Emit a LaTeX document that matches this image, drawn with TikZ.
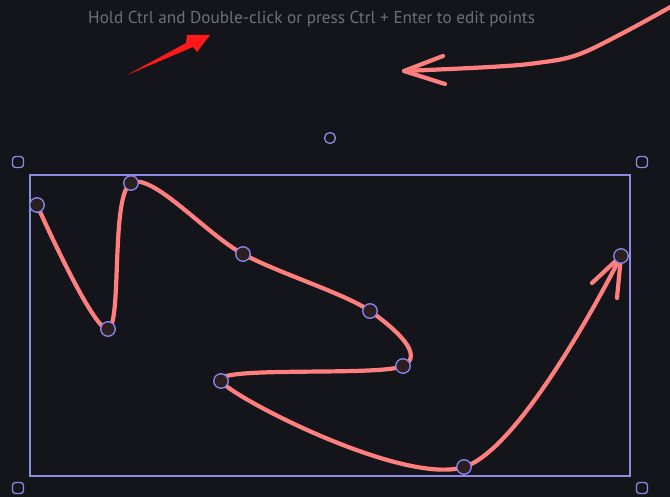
\documentclass[tikz,border=0pt]{standalone}
\usepackage{fontspec}
\setmainfont{PT Sans}
\begin{document}
\begin{tikzpicture}[x=1pt,y=-1pt,
  stroke/.style={draw=curvepink,line width=4.2pt,line cap=round,line join=round},
  sel/.style={draw=sellav,line width=1.5pt},
  handle/.style={draw=sellav,line width=1.3pt,rounded corners=3pt,minimum size=11pt,inner sep=0pt,rectangle},
  pt/.style={circle,draw=ptlav,fill=ptfill,line width=1.3pt,minimum size=14.5pt,inner sep=0pt},
  hint/.style={text=hintgray,font=\fontsize{17.2}{19}\selectfont,inner sep=0pt,anchor=base west}]
\definecolor{bg}{HTML}{13151A}
\definecolor{curvepink}{HTML}{FF7E7E}
\definecolor{sellav}{HTML}{8F8BE0}
\definecolor{ptlav}{HTML}{8A87F0}
\definecolor{ptfill}{HTML}{2B1F20}
\definecolor{hintgray}{HTML}{6E7076}
\definecolor{hotred}{HTML}{FF1A1A}
\fill[bg] (0,0) rectangle (670,497);
\useasboundingbox (0,0) rectangle (670,497);
% hint text
\node[hint] (hinttext) at (88,24) {Hold Ctrl and Double-click or press Ctrl + Enter to edit points};
% red arrow
\fill[hotred] (127,75) -- (186,43) -- (187,35) -- (210,35) -- (197,52) -- (193,47) -- cycle;
% top-right pink arrow
\coordinate (a0) at (674,5);
\coordinate (a1) at (623,33);
\coordinate (a2) at (577,55);
\coordinate (a3) at (537,63);
\coordinate (a4) at (490,67);
\coordinate (a5) at (404,71);
\coordinate (ah1) at (443,56);
\coordinate (ah2) at (445,84);
\draw[stroke] plot[smooth,tension=0.6] coordinates {(a0) (a1) (a2) (a3) (a4) (a5)};
\draw[stroke] (ah1) -- (a5) -- (ah2);
% selection frame
\draw[sel] (30,175) rectangle (630,476);
\node[handle] (hnw) at (18,162) {};
\node[handle] (hne) at (642,162) {};
\node[handle] (hsw) at (18,488) {};
\node[handle] (hse) at (642,488) {};
\node[circle,draw=sellav,line width=1.3pt,minimum size=11pt,inner sep=0pt] (rot) at (330,138) {};
% main curve
\coordinate (p1) at (37,205);
\coordinate (p2) at (108,329);
\coordinate (p3) at (131,183);
\coordinate (p4) at (243,254);
\coordinate (p5) at (370,311);
\coordinate (p6) at (403,366);
\coordinate (p7) at (221,381);
\coordinate (p8) at (464,467);
\coordinate (p9) at (621,256);
\coordinate (h1) at (592,283);
\coordinate (h2) at (617,298);
\draw[stroke] plot[smooth,tension=0.55] coordinates {(p1) (p2) (p3) (p4) (p5) (p6) (p7) (p8) (p9)};
\draw[stroke] (h1) -- (p9) -- (h2);
\foreach \i in {1,...,9} \node[pt] (n\i) at (p\i) {};
\end{tikzpicture}
\end{document}
